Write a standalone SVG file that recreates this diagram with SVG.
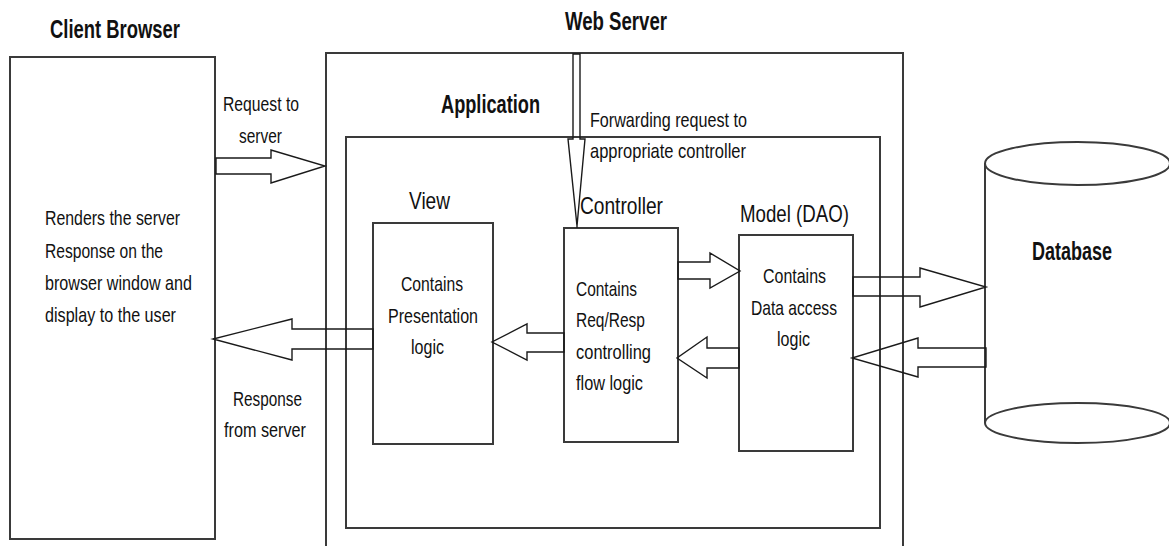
<svg xmlns="http://www.w3.org/2000/svg" width="1169" height="546" viewBox="0 0 1169 546">
  <style>
    .box { fill: none; stroke: #3a3a3a; stroke-width: 2; }
    .arrow { fill: none; stroke: #1a1a1a; stroke-width: 1.4; stroke-linejoin: miter; }
    .h { font-family: "Liberation Sans", Arial, sans-serif; font-weight: bold; font-size: 25px; fill: #111; }
    .lbl { font-family: "Liberation Sans", Arial, sans-serif; font-size: 24px; fill: #111; }
    .t { font-family: "Liberation Sans", Arial, sans-serif; font-size: 21px; fill: #111; }
  </style>
  <rect width="1169" height="546" fill="#ffffff"/>

  <g id="client-browser">
    <rect class="box" x="10" y="57" width="205" height="482"/>
    <text class="h" x="50" y="38" textLength="130" lengthAdjust="spacingAndGlyphs">Client Browser</text>
    <text class="t" x="45" y="225" textLength="135" lengthAdjust="spacingAndGlyphs">Renders the server</text>
    <text class="t" x="45" y="258" textLength="118" lengthAdjust="spacingAndGlyphs">Response on the</text>
    <text class="t" x="45" y="290" textLength="147" lengthAdjust="spacingAndGlyphs">browser window and</text>
    <text class="t" x="45" y="322" textLength="131" lengthAdjust="spacingAndGlyphs">display to the user</text>
  </g>

  <g id="web-server">
    <path class="box" d="M326,550 V53 H903 V550"/>
    <text class="h" x="565" y="30" textLength="102" lengthAdjust="spacingAndGlyphs">Web Server</text>
  </g>

  <g id="application">
    <rect class="box" x="346" y="137" width="534" height="391"/>
    <text class="h" x="441" y="113" textLength="99" lengthAdjust="spacingAndGlyphs">Application</text>
  </g>

  <g id="view">
    <rect class="box" x="373" y="223" width="120" height="221"/>
    <text class="lbl" x="409" y="209" textLength="41" lengthAdjust="spacingAndGlyphs">View</text>
    <text class="t" x="401" y="291" textLength="62" lengthAdjust="spacingAndGlyphs">Contains</text>
    <text class="t" x="388" y="323" textLength="90" lengthAdjust="spacingAndGlyphs">Presentation</text>
    <text class="t" x="411" y="354" textLength="33" lengthAdjust="spacingAndGlyphs">logic</text>
  </g>

  <g id="controller">
    <rect class="box" x="564" y="228" width="114" height="214"/>
    <text class="lbl" x="580" y="214" textLength="83" lengthAdjust="spacingAndGlyphs">Controller</text>
    <text class="t" x="576" y="296" textLength="61" lengthAdjust="spacingAndGlyphs">Contains</text>
    <text class="t" x="576" y="327" textLength="69" lengthAdjust="spacingAndGlyphs">Req/Resp</text>
    <text class="t" x="576" y="359" textLength="75" lengthAdjust="spacingAndGlyphs">controlling</text>
    <text class="t" x="576" y="390" textLength="67" lengthAdjust="spacingAndGlyphs">flow logic</text>
  </g>

  <g id="model">
    <rect class="box" x="739" y="235" width="114" height="216"/>
    <text class="lbl" x="740" y="222" textLength="109" lengthAdjust="spacingAndGlyphs">Model (DAO)</text>
    <text class="t" x="763" y="283" textLength="63" lengthAdjust="spacingAndGlyphs">Contains</text>
    <text class="t" x="751" y="315" textLength="86" lengthAdjust="spacingAndGlyphs">Data access</text>
    <text class="t" x="777" y="346" textLength="33" lengthAdjust="spacingAndGlyphs">logic</text>
  </g>

  <g id="database">
    <path class="box" d="M985,163.5 V423"/>
    <path class="box" d="M1170,163.5 V423"/>
    <ellipse class="box" cx="1077.5" cy="163.5" rx="92.5" ry="21.5"/>
    <ellipse class="box" cx="1077.5" cy="423" rx="92.5" ry="20"/>
    <text class="h" x="1032" y="260" textLength="80" lengthAdjust="spacingAndGlyphs">Database</text>
  </g>

  <g id="connectors">
    <polygon class="arrow" points="216,158 271,158 271,150 325,166 271,183 271,174 216,174"/>
    <text class="t" x="223" y="111" textLength="76" lengthAdjust="spacingAndGlyphs">Request to</text>
    <text class="t" x="239" y="143" textLength="43" lengthAdjust="spacingAndGlyphs">server</text>

    <polygon class="arrow" points="373,329 292,329 292,319 213,339 292,360 292,349 373,349"/>
    <text class="t" x="233" y="406" textLength="69" lengthAdjust="spacingAndGlyphs">Response</text>
    <text class="t" x="224" y="437" textLength="82" lengthAdjust="spacingAndGlyphs">from server</text>

    <polygon class="arrow" points="573,54 580,54 580,139 585,139 577,226 568,139 573,139"/>
    <line class="arrow" x1="577" y1="226" x2="577" y2="228"/>
    <text class="t" x="590" y="127" textLength="157" lengthAdjust="spacingAndGlyphs">Forwarding request to</text>
    <text class="t" x="590" y="158" textLength="156" lengthAdjust="spacingAndGlyphs">appropriate controller</text>

    <polygon class="arrow" points="564,333 527,333 527,324 492,342 527,360 527,352 564,352"/>
    <polygon class="arrow" points="678,262 710,262 710,253 740,271 710,288 710,279 678,279"/>
    <polygon class="arrow" points="739,348 707,348 707,337 677,358 707,378 707,368 739,368"/>
    <polygon class="arrow" points="853,277 920,277 920,268 986,287 920,307 920,296 853,296"/>
    <polygon class="arrow" points="986,348 918,348 918,338 852,358 918,377 918,367 986,367"/>
  </g>
</svg>
